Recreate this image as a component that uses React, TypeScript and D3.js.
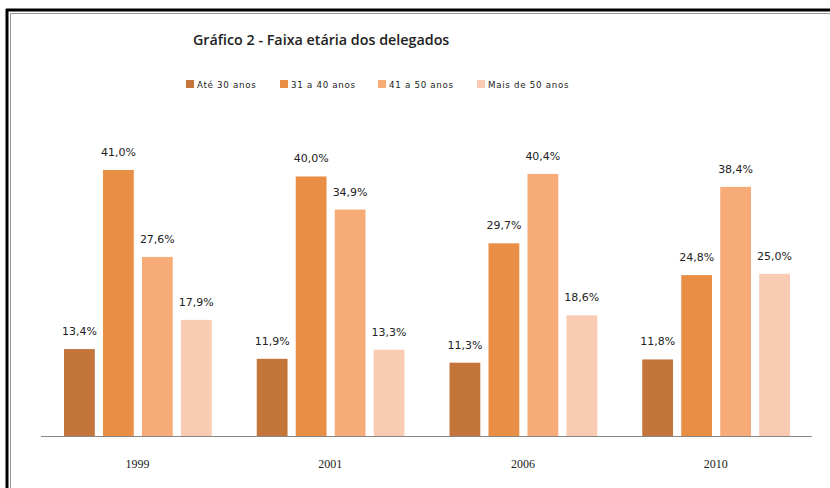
import React, { useEffect, useRef } from "react";
import { select, scaleBand, scaleLinear } from "d3";

const years = ["1999", "2001", "2006", "2010"];
const series = ["Até 30 anos", "31 a 40 anos", "41 a 50 anos", "Mais de 50 anos"];
const colors = ["#C4763A", "#E88F45", "#F7AC78", "#F9CBB3"];
const ate30 = [13.4, 11.9, 11.3, 11.8];
const de31a40 = [41.0, 40.0, 29.7, 24.8];
const de41a50 = [27.6, 34.9, 40.4, 38.4];
const mais50 = [17.9, 13.3, 18.6, 25.0];

const width = 830;
const height = 488;

const App = () => {
  const svgRef = useRef(null);

  useEffect(() => {
    const svg = select(svgRef.current);
    svg.selectAll("*").remove();

    const values = [ate30, de31a40, de41a50, mais50];
    const rows = years.map((y, i) => ({ year: y, vals: values.map((v) => v[i]) }));

    // frame
    svg.append("rect").attr("width", width).attr("height", height).attr("fill", "#fff");
    svg.append("line").attr("x1", 6).attr("x2", width).attr("y1", 10).attr("y2", 10)
      .attr("stroke", "#000").attr("stroke-width", 3);
    svg.append("line").attr("x1", 7).attr("x2", 7).attr("y1", 9).attr("y2", height)
      .attr("stroke", "#000").attr("stroke-width", 3);
    svg.append("line").attr("x1", 10).attr("x2", width).attr("y1", 13.5).attr("y2", 13.5)
      .attr("stroke", "#999").attr("stroke-width", 1);
    svg.append("line").attr("x1", 10.5).attr("x2", 10.5).attr("y1", 13).attr("y2", height)
      .attr("stroke", "#999").attr("stroke-width", 1);

    svg.append("text")
      .attr("x", 193).attr("y", 45)
      .attr("font-family", "'Open Sans', sans-serif")
      .attr("font-weight", "600")
      .attr("font-size", 14.3)
      .attr("fill", "#222")
      .text("Gráfico 2 - Faixa etária dos delegados");

    // legend
    const legendX = [186, 280, 378, 477];
    const leg = svg.append("g");
    series.forEach((s, i) => {
      leg.append("rect").attr("x", legendX[i]).attr("y", 80).attr("width", 8).attr("height", 8)
        .attr("fill", colors[i]);
      leg.append("text").attr("x", legendX[i] + 11).attr("y", 88)
        .attr("font-family", "'DejaVu Sans', sans-serif").attr("font-size", 8.7)
        .attr("letter-spacing", 0.7).attr("fill", "#222").text(s);
    });

    const x = scaleBand().domain(years).range([41, 812]);
    const inner = scaleBand().domain(series.map((_, i) => String(i)))
      .range([23, x.bandwidth() - 22]).paddingInner(0.21);
    const y = scaleLinear().domain([0, 41]).range([436, 170]);

    const g = svg.append("g");
    rows.forEach((r) => {
      const grp = g.append("g").attr("transform", `translate(${x(r.year)},0)`);
      r.vals.forEach((v, i) => {
        grp.append("rect")
          .attr("x", inner(String(i)))
          .attr("y", y(v))
          .attr("width", inner.bandwidth())
          .attr("height", y(0) - y(v))
          .attr("fill", colors[i]);
        grp.append("text")
          .attr("x", inner(String(i)) + inner.bandwidth() / 2)
          .attr("y", y(v) - 14)
          .attr("text-anchor", "middle")
          .attr("font-family", "'DejaVu Sans', sans-serif")
          .attr("font-size", 11)
          .attr("fill", "#222")
          .text(v.toFixed(1).replace(".", ",") + "%");
      });
      svg.append("text")
        .attr("x", x(r.year) + x.bandwidth() / 2)
        .attr("y", 468)
        .attr("text-anchor", "middle")
        .attr("font-family", "'Liberation Serif', serif")
        .attr("font-size", 12)
        .attr("fill", "#222")
        .text(r.year);
    });

    svg.append("line").attr("x1", 41).attr("x2", 812).attr("y1", 436.5).attr("y2", 436.5)
      .attr("stroke", "#888").attr("stroke-width", 1);
  }, []);

  return (
    <svg ref={svgRef} width={width} height={height}
      style={{ position: "absolute", left: 0, top: 0, display: "block" }} />
  );
};

export default App;
